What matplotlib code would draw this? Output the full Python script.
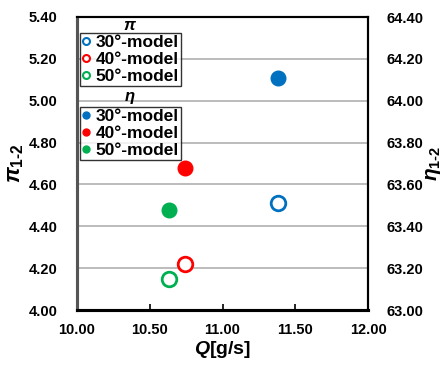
import numpy as np
import matplotlib.pyplot as plt
from matplotlib.lines import Line2D

plt.rcParams['font.family'] = ['Liberation Sans', 'DejaVu Sans']
plt.rcParams['font.weight'] = 'bold'
plt.rcParams['axes.labelweight'] = 'bold'
plt.rcParams['mathtext.fontset'] = 'custom'
plt.rcParams['mathtext.rm'] = 'Liberation Sans:bold'
plt.rcParams['mathtext.it'] = 'Liberation Sans:bold:italic'

# data
models = ['30°-model', '40°-model', '50°-model']
colors = ['#0070C0', '#FF0000', '#00B050']
Q = [11.38, 10.74, 10.63]
pi12 = [4.51, 4.22, 4.15]
eta12 = [64.11, 63.68, 63.48]

fig = plt.figure(figsize=(4.48, 3.67), dpi=100)
ax = fig.add_axes([77/448, 1-310/367, (368-77)/448, (310-17)/367])
ax2 = ax.twinx()

for q, p, c in zip(Q, pi12, colors):
    ax.plot(q, p, 'o', ms=10.5, mfc='white', mec=c, mew=2.0, zorder=3)
for q, e, c in zip(Q, eta12, colors):
    ax2.plot(q, e, 'o', ms=10.5, mfc=c, mec=c, zorder=3)

ax.set_xlim(10, 12)
ax.set_ylim(4.0, 5.4)
ax2.set_ylim(63.0, 64.4)
ax.set_xticks(np.arange(10, 12.01, 0.5))
ax.set_yticks(np.arange(4.0, 5.41, 0.2))
ax2.set_yticks(np.arange(63.0, 64.41, 0.2))
ax.xaxis.set_major_formatter(plt.FormatStrFormatter('%.2f'))
ax.yaxis.set_major_formatter(plt.FormatStrFormatter('%.2f'))
ax2.yaxis.set_major_formatter(plt.FormatStrFormatter('%.2f'))
ax.yaxis.grid(True, color='#b0b0b0', lw=1.2)
ax.set_axisbelow(True)

ax.tick_params(axis='x', direction='in', length=4, width=1.2, labelsize=10.5, pad=9)
ax.tick_params(axis='y', length=0, labelsize=10.5, pad=14)
ax2.tick_params(axis='y', length=0, labelsize=10.5, pad=13)
for a in (ax, ax2):
    for s in a.spines.values():
        s.set_linewidth(1.5)
    a.spines['left'].set_color('#555555')
    a.spines['left'].set_linewidth(2.2)
    a.spines['bottom'].set_linewidth(2.2)

ax.set_xlabel('$\\mathit{Q}$[g/s]', fontsize=14, labelpad=2)
ax.set_ylabel('$\\mathit{\\pi}_{1\\text{-}2}$', fontsize=16, labelpad=2)
ax2.set_ylabel('$\\mathit{\\eta}_{1\\text{-}2}$', fontsize=15, labelpad=1)

open_h = [Line2D([], [], ls='none', marker='o', ms=5, mfc='white', mec=c, mew=1.5) for c in colors]
fill_h = [Line2D([], [], ls='none', marker='o', ms=5, mfc=c, mec=c) for c in colors]
leg_kw = dict(loc='upper left', frameon=True, fancybox=False, edgecolor='black',
              handlelength=0.5, handletextpad=0.3, borderpad=0.1,
              labelspacing=0.12, borderaxespad=0, prop={'weight': 'bold', 'size': 12.5})
leg1 = fig.legend(open_h, models, bbox_to_anchor=(80/448, 1-33/367), **leg_kw)
leg1.get_frame().set_linewidth(1.0)
leg2 = fig.legend(fill_h, models, bbox_to_anchor=(80/448, 1-107/367), **leg_kw)
leg2.get_frame().set_linewidth(1.0)

fig.text(130/448, 1-25/367, '$\\mathit{\\pi}$', fontsize=12, ha='center', va='center')
fig.text(130/448, 1-98/367, '$\\mathit{\\eta}$', fontsize=12, ha='center', va='center')

fig.savefig('out.png', dpi=100)
